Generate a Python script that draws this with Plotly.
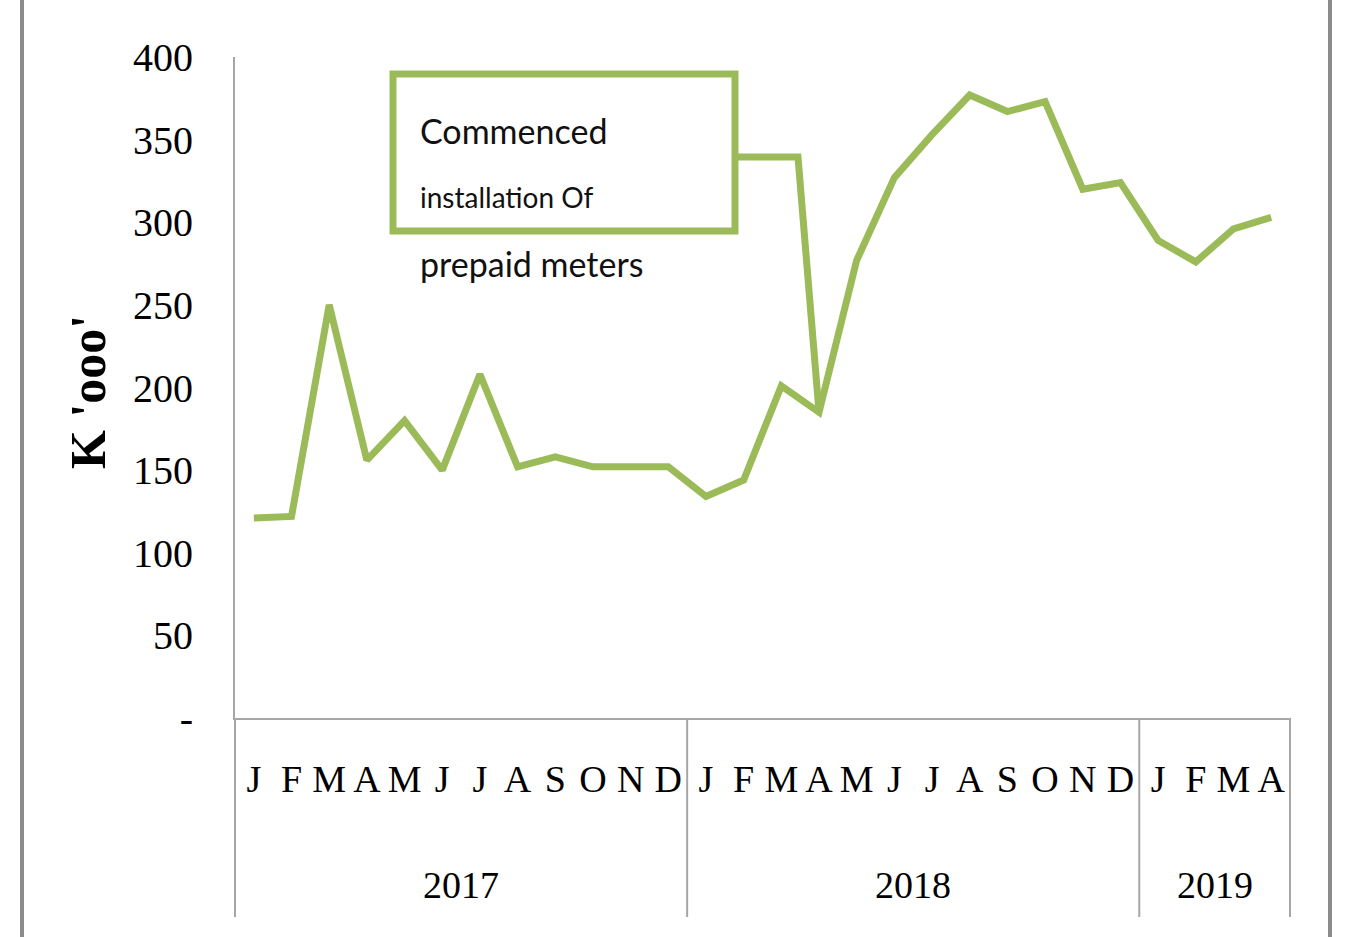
import plotly.graph_objects as go

# monthly values, K '000
months = list("JFMAMJJASOND") + list("JFMAMJJASOND") + list("JFMA")
values = [121, 122, 250, 156, 180, 150, 208, 152, 158, 152, 152, 152,
          134, 144, 201, 185, 277, 327, 353, 377, 367, 373, 320, 324,
          289, 276, 296, 303]
years = ["2017", "2018", "2019"]
year_counts = [12, 12, 4]
y_ticks = [0, 50, 100, 150, 200, 250, 300, 350, 400]
y_ticktext = ["-"] + [str(v) for v in y_ticks[1:]]

note_lines = ["Commenced", "installation Of", "prepaid meters"]
note_month = 15  # April 2018

GREEN = "#9BBB59"
AXIS_GREY = "#A6A6A6"
SERIF = "Liberation Serif, Times New Roman, serif"
SANS = "Lato, Carlito, Calibri, sans-serif"

W, H = 1357, 937
PL, PR, PT, PB = 235, 1290, 57, 718  # plot area on the page
pw, ph = PR - PL, PB - PT
n = len(values)


def px_x(p):
    return (p - PL) / pw


def px_y(p):
    return (PB - p) / ph


x = list(range(n))
fig = go.Figure()
fig.add_trace(go.Scatter(x=x, y=values, mode="lines",
                         line=dict(color=GREEN, width=7),
                         showlegend=False, hoverinfo="skip"))

fig.update_layout(
    width=W, height=H,
    margin=dict(l=PL, r=W - PR, t=PT, b=H - PB, pad=0),
    paper_bgcolor="white", plot_bgcolor="white",
    xaxis=dict(range=[-0.5, n - 0.5], tickvals=x, ticktext=months,
               showgrid=False, zeroline=False, showline=True,
               linecolor=AXIS_GREY, linewidth=2, ticks="",
               ticklabelstandoff=26,
               tickfont=dict(family=SERIF, size=38, color="black")),
    yaxis=dict(range=[0, 400], tickvals=y_ticks, ticktext=y_ticktext,
               showgrid=False, zeroline=False, showline=True,
               linecolor=AXIS_GREY, linewidth=2, ticks="",
               ticklabelstandoff=32,
               tickfont=dict(family=SERIF, size=40, color="black")),
)

# year labels and group dividers below the month labels
shapes = []
annotations = []
start = 0
bounds = [0]
for yr, cnt in zip(years, year_counts):
    annotations.append(dict(x=start + (cnt - 1) / 2, xref="x", y=px_y(885), yref="paper",
                            text=yr, showarrow=False, xanchor="center", yanchor="middle",
                            font=dict(family=SERIF, size=38, color="black")))
    start += cnt
    bounds.append(start)
for b in bounds:
    shapes.append(dict(type="line", xref="paper", yref="paper",
                       x0=b / n, x1=b / n, y0=0, y1=px_y(917),
                       line=dict(color=AXIS_GREY, width=2)))

# outer frame lines of the original picture
for fx, fw in [(22, 4), (1330, 4)]:
    shapes.append(dict(type="line", xref="paper", yref="paper",
                       x0=px_x(fx), x1=px_x(fx), y0=px_y(-5), y1=px_y(H + 5),
                       line=dict(color="#8C8C8C", width=fw)))

# y title
annotations.append(dict(x=px_x(88), xref="paper", y=px_y(392), yref="paper",
                        text="<b>K 'ooo'</b>", textangle=-90, showarrow=False,
                        xanchor="center", yanchor="middle",
                        font=dict(family=SERIF, size=50, color="black")))

# callout box
bx0, bx1, by0, by1 = px_x(393), px_x(735), px_y(231), px_y(74)
shapes.append(dict(type="rect", xref="paper", yref="paper",
                   x0=bx0, x1=bx1, y0=by0, y1=by1,
                   line=dict(color=GREEN, width=7), fillcolor="rgba(0,0,0,0)"))


# elbow connector from the box to the April 2018 point
def to_dx(p):
    return -0.5 + p * n


elbow_y = px_y(157) * 400
corner_x = to_dx(px_x(798))
path = "M {:.3f},{:.3f} L {:.3f},{:.3f} L {},{}".format(
    to_dx(bx1), elbow_y, corner_x, elbow_y, note_month, values[note_month])
shapes.append(dict(type="path", xref="x", yref="y", path=path,
                   line=dict(color=GREEN, width=7)))

for txt, ypx, size in zip(note_lines, [130, 197, 263], [34, 28, 34]):
    annotations.append(dict(x=px_x(418), xref="paper", y=px_y(ypx), yref="paper",
                            text=txt, showarrow=False, xanchor="left", yanchor="middle",
                            font=dict(family=SANS, size=size, color="#111111")))

fig.update_layout(shapes=shapes, annotations=annotations)
# drop the default page margin so the figure sits at the window corner
fig.write_html("out.html", config={"displayModeBar": False},
               post_script="document.body.style.margin='0px';")
